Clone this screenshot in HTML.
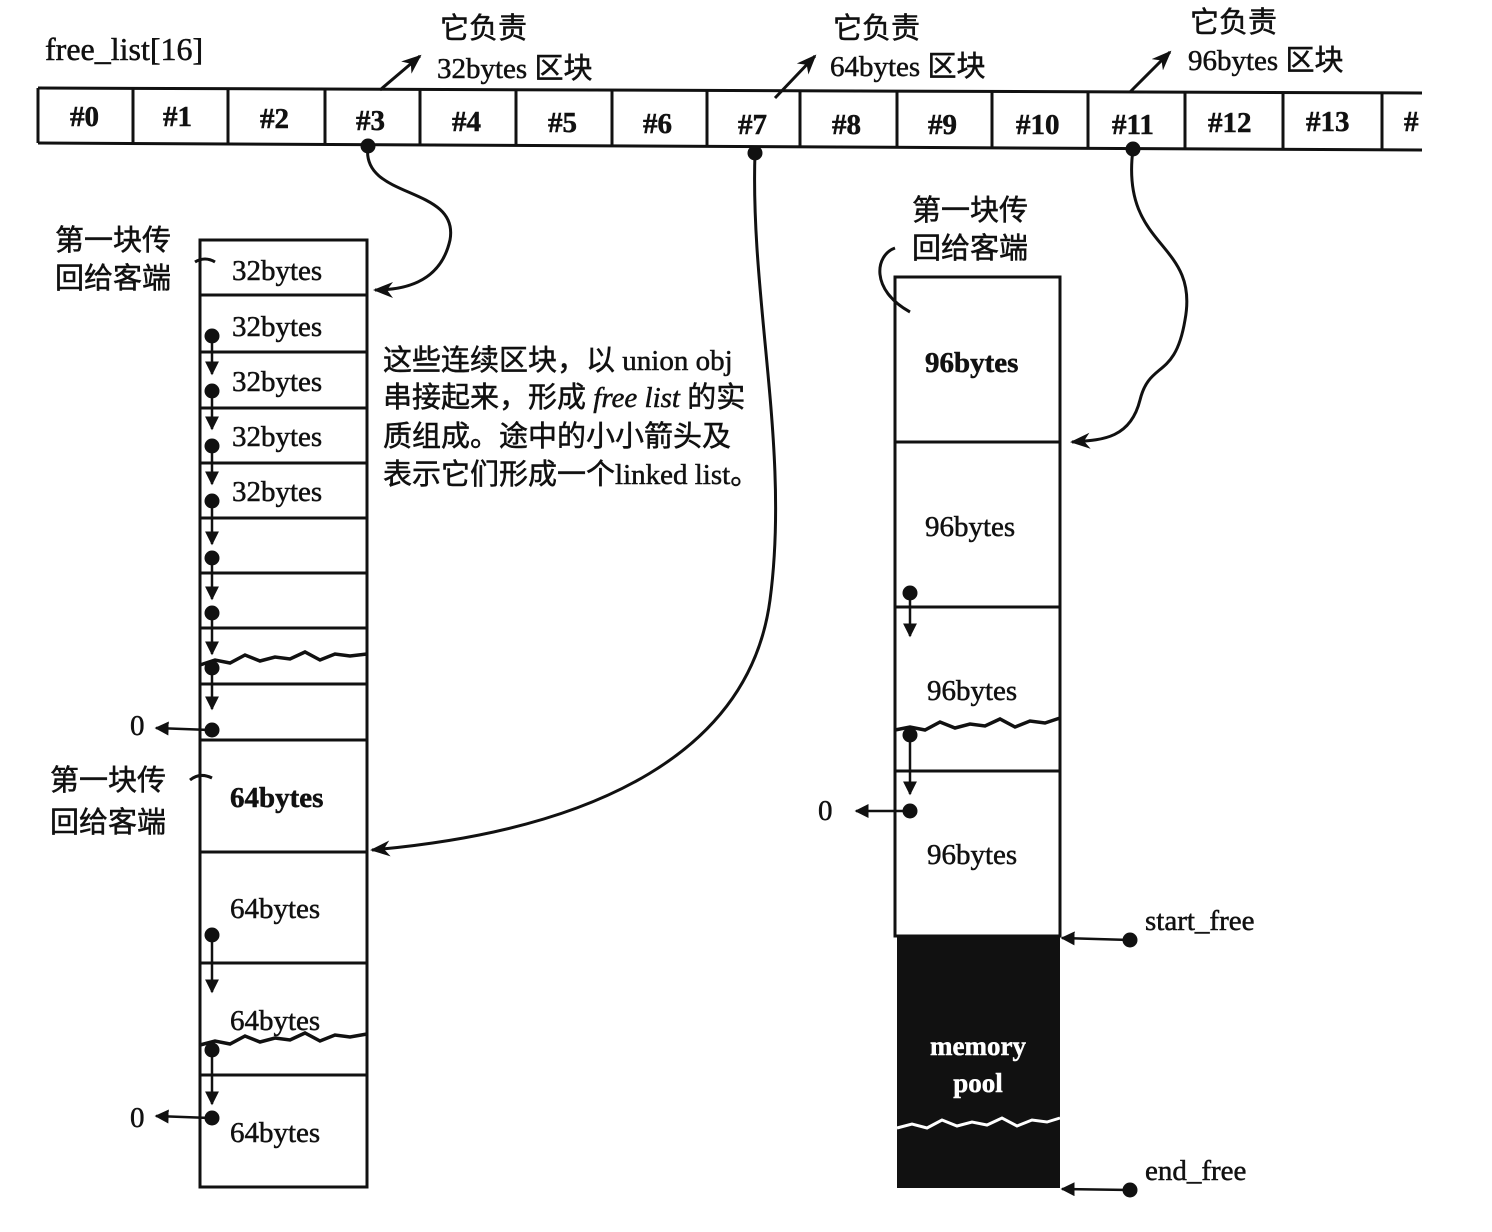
<!DOCTYPE html>
<html><head><meta charset="utf-8"><style>
html,body{margin:0;padding:0;background:#fff;}
svg{display:block;}
text{font-family:"Liberation Serif","Noto Serif CJK SC",serif;fill:#111;stroke:#111;stroke-width:0.5px;}
.c{font-family:"Liberation Sans","Noto Sans CJK SC",sans-serif;}
</style></head><body>
<svg width="1492" height="1232" viewBox="0 0 1492 1232" xmlns="http://www.w3.org/2000/svg">
<defs>
<marker id="a" viewBox="0 0 10 10" refX="9" refY="5" markerWidth="14" markerHeight="14" orient="auto-start-reverse" markerUnits="userSpaceOnUse"><path d="M0,0 L10,5 L0,10 z" fill="#111"/></marker>
<marker id="b" viewBox="0 0 10 10" refX="9" refY="5" markerWidth="20" markerHeight="20" orient="auto" markerUnits="userSpaceOnUse"><path d="M0,1 L10,5 L0,9 L3,5 z" fill="#111"/></marker>
</defs>
<g stroke="#111" stroke-width="3" fill="none">
<path d="M38,88 L1422,93 M38,143 L1422,150"/>
<g>
<line x1="38" y1="88" x2="38" y2="143"/><line x1="133" y1="88" x2="133" y2="143"/><line x1="228" y1="89" x2="228" y2="144"/><line x1="325" y1="89" x2="325" y2="145"/><line x1="420" y1="90" x2="420" y2="145"/><line x1="516" y1="90" x2="516" y2="146"/><line x1="612" y1="90" x2="612" y2="146"/><line x1="707" y1="91" x2="707" y2="147"/><line x1="800" y1="91" x2="800" y2="148"/><line x1="897" y1="91" x2="897" y2="148"/><line x1="992" y1="92" x2="992" y2="148"/><line x1="1088" y1="92" x2="1088" y2="149"/><line x1="1185" y1="92" x2="1185" y2="149"/><line x1="1283" y1="92" x2="1283" y2="149"/><line x1="1382" y1="93" x2="1382" y2="150"/>
</g>
<line x1="380" y1="90" x2="420" y2="56" marker-end="url(#b)"/>
<line x1="775" y1="98" x2="815" y2="56" marker-end="url(#b)"/>
<line x1="1130" y1="92" x2="1170" y2="52" marker-end="url(#b)"/>
<rect x="200" y="240" width="167" height="947"/>
<path d="M200,295H367M200,352H367M200,408H367M200,463H367M200,518H367M200,573H367M200,628H367M200,684H367M200,740H367M200,852H367M200,963H367M200,1075H367"/>
<path d="M200,665 l15,-5 l15,3 l15,-8 l15,6 l15,-4 l15,2 l15,-7 l15,8 l15,-6 l15,2 l17,-2" stroke-width="3.5"/>
<path d="M200,1045 l15,-4 l15,3 l15,-8 l15,6 l15,-4 l15,2 l15,-7 l15,8 l15,-6 l15,2 l17,-3" stroke-width="3.5"/>
<rect x="895" y="277" width="165" height="659"/>
<path d="M895,442H1060M895,607H1060M895,771H1060"/>
<path d="M895,730 l15,-3 l15,3 l15,-8 l15,6 l15,-4 l15,2 l15,-7 l15,8 l15,-6 l15,2 l15,-5" stroke-width="3.5"/>
<path d="M368,146 C360,200 460,185 450,240 C440,285 400,290 375,290" marker-end="url(#b)"/>
<path d="M755,153 C750,300 790,450 770,600 C750,750 600,830 372,850" marker-end="url(#b)"/>
<path d="M1133,149 C1120,250 1200,240 1185,320 C1175,380 1150,360 1140,400 C1130,440 1100,440 1072,442" marker-end="url(#b)"/>
<path d="M195,262 Q205,256 215,262"/>
<path d="M190,780 Q200,772 212,778"/>
<path d="M895,248 C875,255 870,290 910,312"/>
<g stroke-width="2.5">
<line x1="212" y1="340" x2="212" y2="374" marker-end="url(#a)"/>
<line x1="212" y1="395" x2="212" y2="429" marker-end="url(#a)"/>
<line x1="212" y1="450" x2="212" y2="484" marker-end="url(#a)"/>
<line x1="212" y1="505" x2="212" y2="544" marker-end="url(#a)"/>
<line x1="212" y1="560" x2="212" y2="599" marker-end="url(#a)"/>
<line x1="212" y1="615" x2="212" y2="654" marker-end="url(#a)"/>
<line x1="212" y1="670" x2="212" y2="709" marker-end="url(#a)"/>
<line x1="212" y1="935" x2="212" y2="992" marker-end="url(#a)"/>
<line x1="212" y1="1050" x2="212" y2="1104" marker-end="url(#a)"/>
<line x1="210" y1="730" x2="156" y2="728" marker-end="url(#a)"/>
<line x1="210" y1="1118" x2="156" y2="1116" marker-end="url(#a)"/>
<line x1="910" y1="595" x2="910" y2="636" marker-end="url(#a)"/>
<line x1="910" y1="735" x2="910" y2="794" marker-end="url(#a)"/>
<line x1="910" y1="811" x2="856" y2="811" marker-end="url(#a)"/>
<line x1="1130" y1="940" x2="1062" y2="938" marker-end="url(#a)"/>
<line x1="1130" y1="1190" x2="1062" y2="1189" marker-end="url(#a)"/>
</g>
</g>
<rect x="897" y="936" width="163" height="252" fill="#111"/>
<path d="M897,1128 l15,-4 l15,4 l15,-8 l15,6 l15,-4 l15,3 l15,-7 l15,8 l15,-6 l15,2 l13,-4" stroke="#fff" stroke-width="3" fill="none"/>
<g fill="#111">
<circle cx="368" cy="146" r="7.5"/><circle cx="755" cy="153" r="7.5"/><circle cx="1133" cy="149" r="7.5"/>
<circle cx="212" cy="336" r="7.5"/><circle cx="212" cy="391" r="7.5"/><circle cx="212" cy="446" r="7.5"/><circle cx="212" cy="501" r="7.5"/><circle cx="212" cy="558" r="7.5"/><circle cx="212" cy="613" r="7.5"/><circle cx="212" cy="668" r="7.5"/><circle cx="212" cy="730" r="7.5"/><circle cx="212" cy="935" r="7.5"/><circle cx="212" cy="1050" r="7.5"/><circle cx="212" cy="1118" r="7.5"/>
<circle cx="910" cy="593" r="7.5"/><circle cx="910" cy="735" r="7.5"/><circle cx="910" cy="811" r="7.5"/>
<circle cx="1130" cy="940" r="7.5"/><circle cx="1130" cy="1190" r="7.5"/>
</g>
<g font-size="29" font-weight="bold">
<text x="45" y="60" font-weight="normal" font-size="32">free_list[16]</text>
<text x="70" y="126">#0</text><text x="163" y="126">#1</text><text x="260" y="128">#2</text><text x="356" y="130">#3</text><text x="452" y="131">#4</text><text x="548" y="132">#5</text><text x="643" y="133">#6</text><text x="738" y="134">#7</text><text x="832" y="134">#8</text><text x="928" y="134">#9</text><text x="1016" y="134">#10</text><text x="1112" y="134">#11</text><text x="1208" y="132">#12</text><text x="1306" y="131">#13</text><text x="1404" y="131">#</text>
</g>
<g font-size="29">
<text x="440" y="38" class="c">它负责</text><text x="437" y="78">32bytes <tspan class="c">区块</tspan></text>
<text x="833" y="38" class="c">它负责</text><text x="830" y="76">64bytes <tspan class="c">区块</tspan></text>
<text x="1190" y="32" class="c">它负责</text><text x="1188" y="70">96bytes <tspan class="c">区块</tspan></text>
<text x="55" y="250" class="c">第一块传</text><text x="55" y="288" class="c">回给客端</text>
<text x="50" y="790" class="c">第一块传</text><text x="50" y="832" class="c">回给客端</text>
<text x="912" y="220" class="c">第一块传</text><text x="912" y="258" class="c">回给客端</text>
<text x="232" y="280">32bytes</text><text x="232" y="336">32bytes</text><text x="232" y="391">32bytes</text><text x="232" y="446">32bytes</text><text x="232" y="501">32bytes</text>
<text x="230" y="807" font-weight="bold">64bytes</text><text x="230" y="918">64bytes</text><text x="230" y="1030">64bytes</text><text x="230" y="1142">64bytes</text>
<text x="925" y="372" font-weight="bold">96bytes</text><text x="925" y="536">96bytes</text><text x="927" y="700">96bytes</text><text x="927" y="864">96bytes</text>
<text x="130" y="735">0</text><text x="130" y="1127">0</text><text x="818" y="820">0</text>
<text x="1145" y="930">start_free</text><text x="1145" y="1180">end_free</text>
<text x="383" y="370"><tspan class="c">这些连续区块，以</tspan> union obj</text>
<text x="383" y="407"><tspan class="c">串接起来，形成</tspan> <tspan font-style="italic">free list</tspan> <tspan class="c">的实</tspan></text>
<text x="383" y="446" class="c">质组成。途中的小小箭头及</text>
<text x="383" y="484"><tspan class="c">表示它们形成一个</tspan>linked list<tspan class="c">。</tspan></text>
</g>
<text x="978" y="1055" font-size="27" font-weight="bold" style="fill:#fff;stroke:#fff" text-anchor="middle">memory</text>
<text x="978" y="1092" font-size="27" font-weight="bold" style="fill:#fff;stroke:#fff" text-anchor="middle">pool</text>
</svg>
</body></html>
